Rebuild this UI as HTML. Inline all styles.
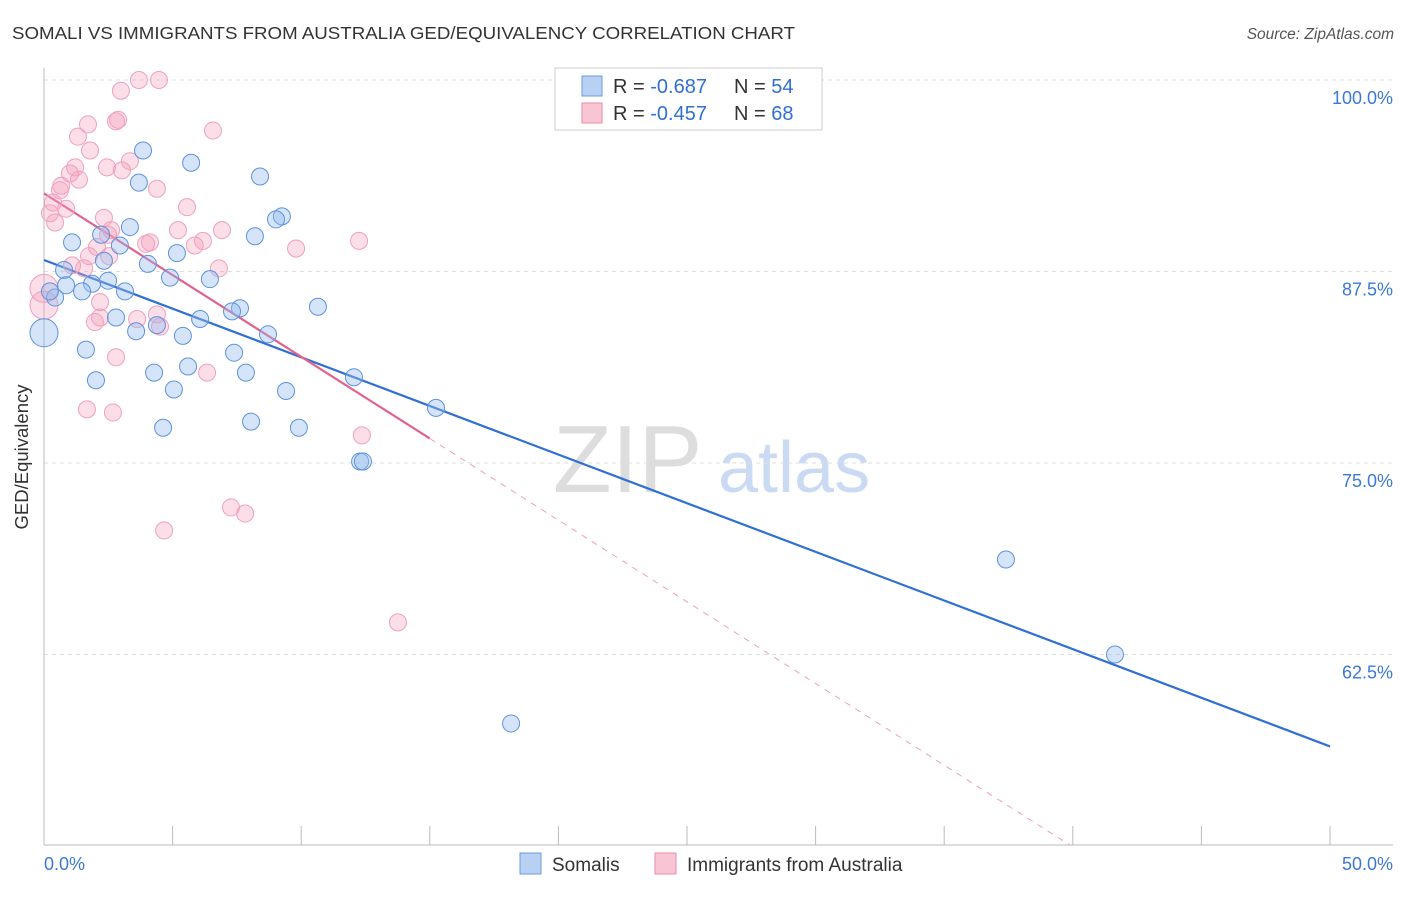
<!DOCTYPE html>
<html><head><meta charset="utf-8"><style>
body{margin:0;background:#fff;font-family:"Liberation Sans",sans-serif}
svg text{font-family:"Liberation Sans",sans-serif}
</style></head><body>
<svg id="chart" width="1406" height="892">
<text x="12" y="39" font-size="17.5" fill="#333" textLength="783" lengthAdjust="spacingAndGlyphs">SOMALI VS IMMIGRANTS FROM AUSTRALIA GED/EQUIVALENCY CORRELATION CHART</text>
<text x="1394" y="39" font-size="15.5" fill="#555" font-style="italic" text-anchor="end">Source: ZipAtlas.com</text>
<text x="28" y="457" font-size="18.5" fill="#333" text-anchor="middle" transform="rotate(-90 28 457)">GED/Equivalency</text>
<g><text x="553" y="492" font-size="96" font-family="Liberation Serif" fill="#ddd">ZIP</text><text x="718" y="492" font-size="72" fill="#c9daf2">atlas</text></g>
<g id="grid"></g><g id="axes"></g><g id="trend"></g><g id="pts"></g>
<g>
<rect x="555" y="68" width="267" height="62" fill="#fff" stroke="#ccc"/>
<rect x="582" y="76" width="20" height="20" fill="#b8d1f3" stroke="#6a9be0"/>
<text x="613" y="93" font-size="20" fill="#333">R = <tspan fill="#2f6fd6">-0.687</tspan></text>
<text x="734" y="93" font-size="20" fill="#333">N = <tspan fill="#2f6fd6">54</tspan></text>
<rect x="582" y="103" width="20" height="20" fill="#f8c5d5" stroke="#ee8aaa"/>
<text x="613" y="120" font-size="20" fill="#333">R = <tspan fill="#2f6fd6">-0.457</tspan></text>
<text x="734" y="120" font-size="20" fill="#333">N = <tspan fill="#2f6fd6">68</tspan></text>
</g>
<g>
<rect x="520" y="853" width="21" height="21" fill="#b8d1f3" stroke="#6a9be0"/>
<text x="552" y="871" font-size="19" fill="#333">Somalis</text>
<rect x="655" y="853" width="21" height="21" fill="#f8c5d5" stroke="#ee8aaa"/>
<text x="687" y="871" font-size="19" fill="#333">Immigrants from Australia</text>
</g>
</svg>
<script>
const yTicks=[100,87.5,75,62.5];
const yTickLabels=["100.0%","87.5%","75.0%","62.5%"];
const xTickLabels=["0.0%","50.0%"];
const blueX=[3.85,5.72,8.40,3.69,9.25,9.02,3.34,2.22,1.09,8.20,2.95,5.17,4.04,2.33,0.78,4.90,6.45,2.49,0.86,1.87,1.48,3.15,0.43,0.23,10.65,7.62,7.31,2.80,6.07,4.39,3.58,8.71,5.40,0,1.63,7.39,5.60,4.28,7.85,2.02,12.05,5.05,9.41,15.24,4.63,8.05,9.91,12.29,12.40,37.40,41.64,18.16];
const blueY=[95.4,94.6,93.7,93.3,91.1,90.9,90.4,89.9,89.4,89.8,89.2,88.7,88.0,88.2,87.6,87.1,87.0,86.9,86.6,86.7,86.2,86.2,85.8,86.2,85.2,85.1,84.9,84.5,84.4,84.0,83.6,83.4,83.3,83.5,82.4,82.2,81.3,80.9,80.9,80.4,80.6,79.8,79.7,78.6,77.3,77.7,77.3,75.1,75.1,68.7,62.5,58.0];
const pinkX=[3.69,4.47,2.99,2.88,2.80,1.71,6.57,1.32,1.79,3.34,2.45,1.21,4.39,3.03,1.36,1.01,0.67,0.62,0.35,0.86,5.56,2.33,0.43,0.23,6.92,5.21,2.49,2.61,4.12,3.97,6.18,5.86,12.25,9.80,2.06,2.53,1.75,1.09,1.56,6.80,2.18,0,2.18,1.98,3.62,4.39,4.51,2.80,6.34,1.67,2.68,12.36,7.27,7.82,4.67,13.76,0];
const pinkY=[100,100,99.3,97.4,97.3,97.1,96.7,96.3,95.4,94.7,94.3,94.3,92.9,94.1,93.5,93.9,93.1,92.8,92.0,91.6,91.7,91.0,90.7,91.3,90.2,90.2,89.9,90.2,89.4,89.3,89.5,89.2,89.5,89.0,89.1,88.5,88.5,87.9,87.7,87.7,85.5,85.3,84.5,84.2,84.4,84.7,83.9,81.9,80.9,78.5,78.3,76.8,72.1,71.7,70.6,64.6,86.4];
const blueTrend=[[0,88.25],[50,56.5]];
const pinkTrend=[[0,92.6],[15,76.6]];
const pinkDash=[[15,76.6],[39.9,50.05]];
const sx=v=>44+v*25.72, sy=v=>80+(100-v)*15.32;
const NS="http://www.w3.org/2000/svg";
function mk(tag,attrs,parent){const e=document.createElementNS(NS,tag);for(const k in attrs)e.setAttribute(k,attrs[k]);document.getElementById(parent).appendChild(e);return e;}
yTicks.forEach((t,i)=>{
 const g=mk('line',{x1:44,x2:1393,y1:sy(t),y2:sy(t),stroke:'#ddd','stroke-dasharray':'4,4'},'grid');
 
 
 const l=mk('text',{x:1393,y:sy(t)+24,'font-size':18,fill:'#3b78d8','text-anchor':'end'},'grid');
 l.textContent=yTickLabels[i];
 
 
});
const ax=mk('line',{x1:44,x2:1393,y1:845,y2:845,stroke:'#bbb'},'axes');


const ay=mk('line',{x1:44,x2:44,y1:68,y2:845,stroke:'#bbb'},'axes');


for(let i=0;i<=10;i++){
 const t=mk('line',{x1:sx(i*5),x2:sx(i*5),y1:826,y2:845,stroke:'#bbb'},'axes');
 
 
}
[[0,'start',0],[50,'end',63]].forEach((p,i)=>{
 const l=mk('text',{x:sx(p[0])+p[2],y:870,'font-size':18,fill:'#3b78d8','text-anchor':p[1]},'axes');
 l.textContent=xTickLabels[i];
 
 
});
function dot(x,y,cls){
 const big=(x===0);
 const c=mk('circle',{cx:sx(x),cy:sy(y),r:big?14:8.5,fill:cls?'rgba(244,160,188,0.35)':'rgba(150,188,238,0.4)',stroke:cls?'#f0a0bb':'#5d93df','stroke-width':1},'pts');
 
 
}
pinkX.forEach((x,i)=>dot(x,pinkY[i],1));
blueX.forEach((x,i)=>dot(x,blueY[i],0));
const bl=mk('line',{x1:sx(blueTrend[0][0]),y1:sy(blueTrend[0][1]),x2:sx(blueTrend[1][0]),y2:sy(blueTrend[1][1]),stroke:'#2f6fd6','stroke-width':2.2},'trend');


const pl=mk('line',{x1:sx(pinkTrend[0][0]),y1:sy(pinkTrend[0][1]),x2:sx(pinkTrend[1][0]),y2:sy(pinkTrend[1][1]),stroke:'#e2628c','stroke-width':2.2},'trend');


const pd=mk('line',{x1:sx(pinkDash[0][0]),y1:sy(pinkDash[0][1]),x2:sx(pinkDash[1][0]),y2:sy(pinkDash[1][1]),stroke:'#eea0b8','stroke-width':1,'stroke-dasharray':'6,6'},'trend');


</script>
</body></html>
